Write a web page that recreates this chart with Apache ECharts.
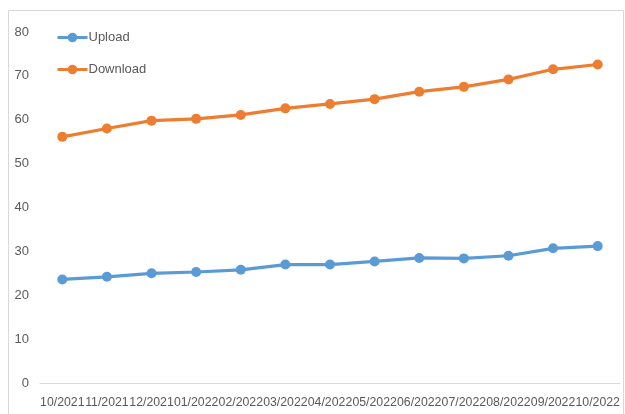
<!DOCTYPE html>
<html>
<head>
<meta charset="utf-8">
<script src="https://cdn.jsdelivr.net/npm/echarts@6/dist/echarts.min.js"></script>
<style>
  html, body { margin: 0; padding: 0; background: #fff; }
  #chart { width: 625px; height: 414px; }
</style>
</head>
<body>
<div id="chart"></div>
<script>
// Monthly average speeds, Oct 2021 – Oct 2022
const months = ['10/2021', '11/2021', '12/2021', '01/2022', '02/2022', '03/2022', '04/2022',
                '05/2022', '06/2022', '07/2022', '08/2022', '09/2022', '10/2022'];
const upload = [23.6, 24.2, 25.0, 25.3, 25.8, 27.0, 27.0, 27.7, 28.5, 28.4, 29.0, 30.7, 31.2];
const download = [56.1, 58.0, 59.8, 60.2, 61.1, 62.6, 63.6, 64.7, 66.4, 67.5, 69.2, 71.5, 72.6];
const yTicks = { min: 0, max: 80, step: 10 };

const blue = '#5B9BD5';
const orange = '#ED7D31';
const textColor = '#595959';
const font = '"Liberation Sans", Arial, sans-serif';

const chart = echarts.init(document.getElementById('chart'), null, { renderer: 'canvas' });

function lineSeries(name, data, color) {
  return {
    name: name,
    type: 'line',
    data: data,
    symbol: 'circle',
    symbolSize: 10,
    lineStyle: { color: color, width: 3.2 },
    itemStyle: { color: color },
    emphasis: { disabled: true }
  };
}

chart.setOption({
  animation: false,
  graphic: [{
    type: 'rect',
    shape: { x: 8.5, y: 10.5, width: 615, height: 420 },
    style: { fill: 'none', stroke: '#d9d9d9', lineWidth: 1 },
    silent: true
  }],
  legend: {
    orient: 'vertical',
    left: 56,
    top: 31,
    padding: 0,
    itemWidth: 30,
    itemHeight: 12,
    itemGap: 19,
    lineStyle: { width: 3 },
    textStyle: { color: textColor, fontSize: 13, fontFamily: font, padding: [0, 0, 0, -4] },
    data: ['Upload', 'Download']
  },
  grid: { left: 40, right: 5, top: 32, bottom: 31, containLabel: false },
  xAxis: {
    type: 'category',
    data: months,
    boundaryGap: true,
    axisLine: { show: true, lineStyle: { color: '#d9d9d9', width: 1 } },
    axisTick: { show: false },
    axisLabel: {
      interval: 0,
      color: textColor,
      fontSize: 12.3,
      fontFamily: font,
      margin: 14
    },
    splitLine: { show: false }
  },
  yAxis: {
    type: 'value',
    min: yTicks.min,
    max: yTicks.max,
    interval: yTicks.step,
    axisLine: { show: false },
    axisTick: { show: false },
    splitLine: { show: false },
    axisLabel: {
      color: textColor,
      fontSize: 13,
      fontFamily: font,
      margin: 11
    }
  },
  series: [
    lineSeries('Upload', upload, blue),
    lineSeries('Download', download, orange)
  ]
});
</script>
</body>
</html>
